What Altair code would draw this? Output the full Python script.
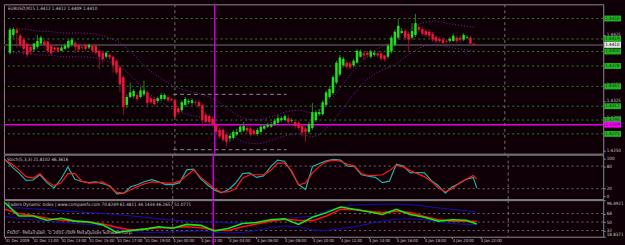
import altair as alt
import pandas as pd

# ---------------- data ----------------
candle_open = [1.4398, 1.4425, 1.4433, 1.4424, 1.4418, 1.4412, 1.4407, 1.4403, 1.4407, 1.4412,
               1.4415, 1.4415, 1.4409, 1.4406, 1.4406, 1.4401, 1.4404, 1.4406, 1.4410, 1.4413,
               1.4410, 1.4407, 1.4410, 1.4406, 1.4409, 1.4409, 1.4401, 1.4398, 1.4392, 1.4395,
               1.4392, 1.4386, 1.4376, 1.4361, 1.4319, 1.4331, 1.4332, 1.4334, 1.4331, 1.4335,
               1.4338, 1.4329, 1.4328, 1.4325, 1.4328, 1.4328, 1.4331, 1.4328, 1.4326, 1.4314,
               1.4311, 1.4319, 1.4323, 1.4322, 1.4323, 1.4323, 1.4319, 1.4304, 1.4302, 1.4298,
               1.4289, 1.4281, 1.4281, 1.4274, 1.4268, 1.4269, 1.4274, 1.4278, 1.4280, 1.4284,
               1.4283, 1.4280, 1.4275, 1.4278, 1.4283, 1.4286, 1.4286, 1.4289, 1.4292, 1.4296,
               1.4296, 1.4299, 1.4295, 1.4293, 1.4292, 1.4287, 1.4283, 1.4278, 1.4284, 1.4296,
               1.4305, 1.4305, 1.4319, 1.4331, 1.4337, 1.4353, 1.4365, 1.4379, 1.4383, 1.4382,
               1.4379, 1.4383, 1.4392, 1.4397, 1.4398, 1.4392, 1.4395, 1.4397, 1.4397, 1.4394,
               1.4392, 1.4400, 1.4410, 1.4421, 1.4428, 1.4431, 1.4427, 1.4421, 1.4425, 1.4437,
               1.4434, 1.4431, 1.4430, 1.4427, 1.4422, 1.4419, 1.4418, 1.4416, 1.4416, 1.4416,
               1.4421, 1.4421, 1.4418, 1.4421, 1.4421, 1.4412]
candle_high = [1.4436, 1.4437, 1.4436, 1.4427, 1.4421, 1.4413, 1.4410, 1.4413, 1.4425, 1.4424,
               1.4418, 1.4416, 1.4410, 1.4407, 1.4407, 1.4409, 1.4412, 1.4418, 1.4421, 1.4416,
               1.4412, 1.4409, 1.4412, 1.4412, 1.4410, 1.4410, 1.4403, 1.4400, 1.4400, 1.4397,
               1.4394, 1.4388, 1.4379, 1.4364, 1.4335, 1.4353, 1.4343, 1.4338, 1.4346, 1.4356,
               1.4341, 1.4332, 1.4331, 1.4332, 1.4337, 1.4337, 1.4334, 1.4329, 1.4329, 1.4317,
               1.4326, 1.4331, 1.4328, 1.4329, 1.4326, 1.4326, 1.4322, 1.4308, 1.4305, 1.4301,
               1.4292, 1.4284, 1.4283, 1.4277, 1.4275, 1.4281, 1.4283, 1.4290, 1.4293, 1.4287,
               1.4286, 1.4283, 1.4284, 1.4290, 1.4290, 1.4292, 1.4293, 1.4298, 1.4304, 1.4302,
               1.4305, 1.4304, 1.4299, 1.4296, 1.4295, 1.4290, 1.4286, 1.4293, 1.4322, 1.4311,
               1.4313, 1.4326, 1.4341, 1.4346, 1.4364, 1.4386, 1.4395, 1.4392, 1.4386, 1.4385,
               1.4389, 1.4404, 1.4403, 1.4400, 1.4401, 1.4403, 1.4401, 1.4400, 1.4400, 1.4395,
               1.4412, 1.4424, 1.4433, 1.4449, 1.4436, 1.4434, 1.4430, 1.4443, 1.4457, 1.4440,
               1.4437, 1.4434, 1.4433, 1.4430, 1.4425, 1.4422, 1.4421, 1.4419, 1.4422, 1.4427,
               1.4424, 1.4424, 1.4428, 1.4425, 1.4424, 1.4412]
candle_low = [1.4395, 1.4421, 1.4406, 1.4406, 1.4395, 1.4391, 1.4395, 1.4400, 1.4404, 1.4409,
              1.4407, 1.4398, 1.4394, 1.4400, 1.4398, 1.4400, 1.4403, 1.4404, 1.4407, 1.4398,
              1.4400, 1.4403, 1.4401, 1.4403, 1.4398, 1.4395, 1.4373, 1.4383, 1.4389, 1.4388,
              1.4368, 1.4365, 1.4338, 1.4304, 1.4314, 1.4329, 1.4329, 1.4325, 1.4329, 1.4332,
              1.4317, 1.4320, 1.4317, 1.4322, 1.4325, 1.4326, 1.4323, 1.4325, 1.4298, 1.4304,
              1.4308, 1.4316, 1.4320, 1.4319, 1.4319, 1.4314, 1.4286, 1.4290, 1.4289, 1.4286,
              1.4275, 1.4268, 1.4263, 1.4256, 1.4263, 1.4266, 1.4272, 1.4277, 1.4278, 1.4277,
              1.4271, 1.4272, 1.4272, 1.4277, 1.4281, 1.4284, 1.4284, 1.4287, 1.4290, 1.4293,
              1.4295, 1.4289, 1.4292, 1.4283, 1.4281, 1.4271, 1.4263, 1.4275, 1.4281, 1.4293,
              1.4302, 1.4302, 1.4316, 1.4328, 1.4334, 1.4350, 1.4362, 1.4376, 1.4374, 1.4373,
              1.4376, 1.4382, 1.4391, 1.4388, 1.4391, 1.4389, 1.4392, 1.4391, 1.4386, 1.4385,
              1.4389, 1.4397, 1.4407, 1.4418, 1.4427, 1.4418, 1.4401, 1.4418, 1.4422, 1.4430,
              1.4424, 1.4422, 1.4421, 1.4415, 1.4413, 1.4413, 1.4410, 1.4412, 1.4413, 1.4415,
              1.4413, 1.4415, 1.4416, 1.4419, 1.4411, 1.4409]
candle_close = [1.4433, 1.4434, 1.4428, 1.4410, 1.4404, 1.4395, 1.4400, 1.4412, 1.4416, 1.4421,
                1.4410, 1.4401, 1.4397, 1.4403, 1.4401, 1.4406, 1.4409, 1.4416, 1.4418, 1.4407,
                1.4403, 1.4406, 1.4404, 1.4410, 1.4401, 1.4398, 1.4392, 1.4388, 1.4398, 1.4391,
                1.4379, 1.4368, 1.4350, 1.4316, 1.4331, 1.4338, 1.4340, 1.4328, 1.4341, 1.4341,
                1.4322, 1.4323, 1.4320, 1.4329, 1.4334, 1.4334, 1.4326, 1.4326, 1.4301, 1.4308,
                1.4323, 1.4328, 1.4325, 1.4326, 1.4322, 1.4317, 1.4296, 1.4293, 1.4293, 1.4289,
                1.4278, 1.4271, 1.4266, 1.4263, 1.4272, 1.4278, 1.4278, 1.4286, 1.4287, 1.4280,
                1.4274, 1.4275, 1.4281, 1.4286, 1.4287, 1.4289, 1.4289, 1.4295, 1.4299, 1.4299,
                1.4302, 1.4293, 1.4296, 1.4287, 1.4284, 1.4277, 1.4278, 1.4290, 1.4308, 1.4308,
                1.4308, 1.4323, 1.4338, 1.4343, 1.4361, 1.4383, 1.4391, 1.4389, 1.4377, 1.4376,
                1.4386, 1.4401, 1.4400, 1.4394, 1.4395, 1.4400, 1.4398, 1.4394, 1.4389, 1.4388,
                1.4409, 1.4421, 1.4430, 1.4439, 1.4431, 1.4421, 1.4418, 1.4431, 1.4443, 1.4433,
                1.4427, 1.4425, 1.4424, 1.4418, 1.4416, 1.4416, 1.4413, 1.4415, 1.4419, 1.4424,
                1.4416, 1.4418, 1.4425, 1.4422, 1.4412, 1.4410]

envelope_bars = list(range(0, 136, 4)) + [135]
envelope_upper = [1.4434, 1.4434, 1.4431, 1.4430, 1.4428, 1.4428, 1.4427, 1.4422, 1.4413, 1.4395,
                  1.4374, 1.4359, 1.4347, 1.4340, 1.4335, 1.4326, 1.4311, 1.4299, 1.4296, 1.4301,
                  1.4308, 1.4311, 1.4307, 1.4319, 1.4344, 1.4371, 1.4394, 1.4407, 1.4416, 1.4431,
                  1.4443, 1.4446, 1.4442, 1.4439, 1.4437]
envelope_lower = [1.4398, 1.4398, 1.4395, 1.4394, 1.4392, 1.4392, 1.4391, 1.4386, 1.4377, 1.4359,
                  1.4338, 1.4323, 1.4311, 1.4304, 1.4299, 1.4290, 1.4275, 1.4263, 1.4260, 1.4265,
                  1.4272, 1.4275, 1.4271, 1.4283, 1.4308, 1.4335, 1.4358, 1.4371, 1.4380, 1.4395,
                  1.4407, 1.4410, 1.4406, 1.4403, 1.4401]

price_ticks = [1.4250, 1.4300, 1.4325, 1.4350, 1.4425]
level_prices = [1.4450, 1.4419, 1.4400, 1.4378, 1.4347, 1.4317, 1.4296, 1.4275]
bid_price = [1.4410]
marker_price = [1.4289]
range_box_prices = [1.4335, 1.4251]
range_box_start = [47.5, 47.5]
range_box_end = [80.5, 80.5]
separator_bars = [48, 144]
marker_bar = [59.6]

time_tick_bars = [0, 8, 16, 24, 32, 40, 48, 56, 64, 72, 80, 88, 96, 104, 112, 120, 128, 136]
time_tick_labels = ["31 Dec 2009", "31 Dec 11:00", "31 Dec 13:00", "31 Dec 15:00", "31 Dec 17:00",
                    "31 Dec 19:00", "4 Jan 00:00", "4 Jan 02:00", "4 Jan 04:00", "4 Jan 06:00",
                    "4 Jan 08:00", "4 Jan 10:00", "4 Jan 12:00", "4 Jan 14:00", "4 Jan 16:00",
                    "4 Jan 18:00", "4 Jan 20:00", "4 Jan 22:00"]

stoch_bars = list(range(0, 136, 2)) + [135]
stoch_main = [98, 78, 62, 42, 43, 57, 36, 22, 45, 78, 45, 39, 36, 38, 33, 28, 6, 8, 25, 31,
              39, 44, 38, 31, 31, 36, 70, 72, 46, 30, 16, 9, 18, 35, 60, 62, 50, 54, 78, 96,
              93, 65, 31, 18, 79, 87, 94, 98, 96, 80, 79, 57, 53, 50, 36, 40, 85, 80, 62, 63,
              62, 42, 28, 8, 25, 34, 45, 50, 22]
stoch_signal = [96, 85, 70, 52, 48, 60, 40, 28, 35, 60, 60, 40, 35, 36, 38, 25, 10, 8, 17, 26,
                33, 38, 37, 35, 35, 40, 55, 70, 50, 35, 20, 10, 12, 20, 48, 57, 57, 57, 68, 88,
                88, 68, 30, 35, 62, 80, 92, 96, 93, 85, 80, 60, 55, 55, 57, 68, 82, 78, 68, 60,
                52, 40, 22, 12, 20, 35, 45, 55, 46]

tdi_bars = list(range(0, 136, 4)) + [135]
tdi_price_line = [91, 63, 63, 54, 58, 52, 50, 44, 28, 32, 35, 40, 37, 45, 43, 31, 37, 47, 49, 55,
                  57, 45, 60, 70, 82, 77, 72, 66, 77, 66, 60, 52, 55, 54, 46]
tdi_signal_line = [77, 68, 64, 58, 54, 52, 50, 46, 39, 33, 35, 38, 38, 40, 38, 33, 32, 40, 46, 52,
                   56, 54, 53, 63, 77, 76, 73, 70, 73, 70, 62, 55, 52, 52, 51]
tdi_upper_band = [80, 80, 78, 76, 74, 72, 70, 68, 66, 63, 60, 57, 54, 52, 50, 50, 48, 48, 50, 54,
                  58, 60, 62, 74, 82, 86, 87, 88, 88, 87, 84, 80, 77, 74, 71]
tdi_lower_band = [62, 58, 55, 52, 49, 47, 45, 42, 36, 30, 28, 28, 29, 30, 31, 28, 27, 28, 32, 38,
                  42, 40, 33, 32, 36, 40, 46, 52, 56, 57, 55, 50, 47, 45, 44]

title_main = "EURUSD,M15  1.4412 1.4412 1.4409 1.4410"
title_stoch = "Stoch(5,3,3) 21.8102 46.3616"
title_tdi = "Traders Dynamic Index | www.compassfx.com  70.8249 61.4811 44.1434 46.2657 51.0771"
copyright_text = "FXDD - MetaTrader, \u00a9 2001-2009 MetaQuotes Software Corp."

# ---------------- style ----------------
BG = "#0f0008"
FRAME = "#8c8c8c"
TXT = "#c8c8c8"
FONT = "Liberation Sans Narrow, DejaVu Sans Condensed, Arial Narrow, sans-serif"
FS = 4.6
FSX = 4.2
BULL = "#1ee01e"
BEAR = "#f0143c"
BULL_WICK = "#169016"
BEAR_WICK = "#a00a22"
MAGENTA = "#c800d8"
W = 606
H_MAIN, H_STOCH, H_TDI = 151, 45, 37

xscale = alt.Scale(domain=[-0.3, 171.2], nice=False, zero=False)

candles = pd.DataFrame({"bar": list(range(len(candle_close))), "open": candle_open,
                        "high": candle_high, "low": candle_low, "close": candle_close})

# ---------------- main panel ----------------
ys = alt.Scale(domain=[1.4245, 1.44715], nice=False, zero=False)
yax = alt.Axis(values=price_ticks, format=".4f", orient="right", domain=False, grid=False,
               tickSize=2, tickColor=FRAME, labelColor=TXT, labelFont=FONT, labelFontSize=FS,
               labelPadding=1, labelOverlap=False, title=None)


def Ym(field):
    return alt.Y(field, scale=ys, axis=yax, title=None)


def Xn(field):
    return alt.X(field, scale=xscale, axis=None, title=None)


levels_df = pd.DataFrame({"price": level_prices, "label": [f"{p:.4f}" for p in level_prices]})
levels = alt.Chart(levels_df).mark_rule(color="#1c8c1c", strokeDash=[2, 3], strokeWidth=1).encode(y=Ym("price:Q"))

bid_df = pd.DataFrame({"price": bid_price, "label": [f"{p:.4f}" for p in bid_price]})
bid_line = alt.Chart(bid_df).mark_rule(color="#3a3a3a", strokeWidth=2).encode(y=Ym("price:Q"))

sep_df = pd.DataFrame({"bar": separator_bars})
seps_main = alt.Chart(sep_df).mark_rule(color="#707070", strokeDash=[3, 3], strokeWidth=1).encode(x=Xn("bar:Q"))

box_df = pd.DataFrame({"x": range_box_start, "x2": range_box_end, "price": range_box_prices})
box_lines = alt.Chart(box_df).mark_rule(color="#8a8a8a", strokeDash=[4, 3], strokeWidth=1).encode(
    x=Xn("x:Q"), x2="x2:Q", y=Ym("price:Q"))

env_df = pd.DataFrame({"bar": envelope_bars, "upper": envelope_upper, "lower": envelope_lower})
env_up = alt.Chart(env_df).mark_line(color="#7a24a6", strokeDash=[1, 2], strokeWidth=1,
                                     interpolate="monotone").encode(x=Xn("bar:Q"), y=Ym("upper:Q"))
env_lo = alt.Chart(env_df).mark_line(color="#7a24a6", strokeDash=[1, 2], strokeWidth=1,
                                     interpolate="monotone").encode(x=Xn("bar:Q"), y=Ym("lower:Q"))

mk_df = pd.DataFrame({"price": marker_price, "label": [f"{p:.4f}" for p in marker_price]})
mk_h = alt.Chart(mk_df).mark_rule(color="#e000e0", strokeWidth=1.5).encode(y=Ym("price:Q"))

vb_df = pd.DataFrame({"bar": marker_bar})
mk_v_main = alt.Chart(vb_df).mark_rule(color=MAGENTA, strokeWidth=1.6).encode(x=Xn("bar:Q"))

color_body = alt.condition("datum.close >= datum.open", alt.value(BULL), alt.value(BEAR))
color_wick = alt.condition("datum.close >= datum.open", alt.value(BULL_WICK), alt.value(BEAR_WICK))
wicks = alt.Chart(candles).mark_rule(strokeWidth=1).encode(
    x=Xn("bar:Q"), y=Ym("low:Q"), y2="high:Q", color=color_wick)
bodies = alt.Chart(candles).mark_bar(size=2.5).encode(
    x=Xn("bar:Q"), y=Ym("open:Q"), y2="close:Q", color=color_body)

# axis price boxes
lvl_boxes = alt.Chart(levels_df).mark_rule(color="#22b022", strokeWidth=6, strokeCap="butt").encode(
    x=alt.value(W + 1), x2=alt.value(W + 18), y=Ym("price:Q"))
lvl_box_text = alt.Chart(levels_df).mark_text(align="left", baseline="middle", font=FONT, fontSize=FS,
                                              color="#0c400c").encode(
    x=alt.value(W + 2), y=Ym("price:Q"), text="label:N")
bid_box = alt.Chart(bid_df).mark_rule(color="#e6e6e6", strokeWidth=6, strokeCap="butt").encode(
    x=alt.value(W + 1), x2=alt.value(W + 18), y=Ym("price:Q"))
bid_box_text = alt.Chart(bid_df).mark_text(align="left", baseline="middle", font=FONT, fontSize=FS,
                                           color="#000000").encode(
    x=alt.value(W + 2), y=Ym("price:Q"), text="label:N")
mk_box = alt.Chart(mk_df).mark_rule(color="#ff00ff", strokeWidth=6, strokeCap="butt").encode(
    x=alt.value(W + 1), x2=alt.value(W + 18), y=Ym("price:Q"))
mk_box_text = alt.Chart(mk_df).mark_text(align="left", baseline="middle", font=FONT, fontSize=FS,
                                         color="#400040").encode(
    x=alt.value(W + 2), y=Ym("price:Q"), text="label:N")

t_main = alt.Chart(pd.DataFrame({"t": [title_main]})).mark_text(
    align="left", baseline="top", font=FONT, fontSize=FS, color=TXT).encode(
    x=alt.value(4), y=alt.value(2), text="t:N")

main = alt.layer(levels, bid_line, seps_main, box_lines, env_up, env_lo, mk_h, mk_v_main, wicks, bodies,
                 lvl_boxes, lvl_box_text, bid_box, bid_box_text, mk_box, mk_box_text, t_main
                 ).properties(width=W, height=H_MAIN)

# ---------------- stochastic panel ----------------
ss = alt.Scale(domain=[-7.9, 110.5], nice=False, zero=False)
sax = alt.Axis(values=[0, 20, 80, 100], format="d", orient="right", domain=False, grid=False,
               tickSize=2, tickColor=FRAME, labelColor=TXT, labelFont=FONT, labelFontSize=FS,
               labelPadding=1, labelOverlap=False, title=None)


def Ys(field):
    return alt.Y(field, scale=ss, axis=sax, title=None)


stoch_df = pd.DataFrame({"bar": stoch_bars, "main": stoch_main, "signal": stoch_signal})
s_levels = alt.Chart(pd.DataFrame({"v": [20, 80]})).mark_rule(
    color="#6a6a6a", strokeDash=[2, 3]).encode(y=Ys("v:Q"))
s_seps = alt.Chart(sep_df).mark_rule(color="#707070", strokeDash=[3, 3]).encode(x=Xn("bar:Q"))
s_vm = alt.Chart(vb_df).mark_rule(color=MAGENTA, strokeWidth=1.6).encode(x=Xn("bar:Q"))
s_main = alt.Chart(stoch_df).mark_line(color="#20b2aa", strokeWidth=1.2).encode(
    x=Xn("bar:Q"), y=Ys("main:Q"))
s_sig = alt.Chart(stoch_df).mark_line(color="#ff1a1a", strokeWidth=1.2).encode(
    x=Xn("bar:Q"), y=Ys("signal:Q"))
t_stoch = alt.Chart(pd.DataFrame({"t": [title_stoch]})).mark_text(
    align="left", baseline="top", font=FONT, fontSize=FS, color=TXT).encode(
    x=alt.value(3), y=alt.value(2), text="t:N")
stoch = alt.layer(s_levels, s_seps, s_vm, s_main, s_sig, t_stoch).properties(width=W, height=H_STOCH)

# ---------------- TDI panel ----------------
ts = alt.Scale(domain=[18.8371, 96.4921], nice=False, zero=False)
tax = alt.Axis(values=[18.8371, 32, 50, 68, 96.4921], orient="right", domain=False, grid=False,
               labelExpr="datum.value % 1 == 0 ? format(datum.value, 'd') : format(datum.value, '.4f')",
               tickSize=2, tickColor=FRAME, labelColor=TXT, labelFont=FONT, labelFontSize=FS,
               labelPadding=1, labelOverlap=False, labelFlush=True, title=None)
label_array = "[" + ",".join(f"'{s}'" for s in time_tick_labels) + "]"
xax = alt.Axis(values=time_tick_bars, labelExpr=f"{label_array}[round(datum.value / 8)]",
               domain=False, grid=False, tickSize=2, tickColor=FRAME, labelColor=TXT,
               labelFont=FONT, labelFontSize=FSX, labelAlign="left", labelPadding=0,
               labelFlush=False, labelOverlap=False, title=None)


def Yt(field):
    return alt.Y(field, scale=ts, axis=tax, title=None)


def Xt(field):
    return alt.X(field, scale=xscale, axis=xax, title=None)


tdi_df = pd.DataFrame({"bar": tdi_bars, "price_line": tdi_price_line, "signal": tdi_signal_line,
                       "upper": tdi_upper_band, "lower": tdi_lower_band})
t_levels = alt.Chart(pd.DataFrame({"v": [32, 50, 68]})).mark_rule(
    color="#6a6a6a", strokeDash=[2, 3]).encode(y=Yt("v:Q"))
t_seps = alt.Chart(sep_df).mark_rule(color="#707070", strokeDash=[3, 3]).encode(x=Xt("bar:Q"))
t_vm = alt.Chart(vb_df).mark_rule(color=MAGENTA, strokeWidth=1.6).encode(
    x=Xt("bar:Q"), y=alt.value(0), y2=alt.value(H_TDI + 8))
t_up = alt.Chart(tdi_df).mark_line(color="#1010b0", strokeWidth=1).encode(x=Xt("bar:Q"), y=Yt("upper:Q"))
t_lo = alt.Chart(tdi_df).mark_line(color="#1010b0", strokeWidth=1).encode(x=Xt("bar:Q"), y=Yt("lower:Q"))
t_sig = alt.Chart(tdi_df).mark_line(color="#ff1010", strokeWidth=1.6).encode(x=Xt("bar:Q"), y=Yt("signal:Q"))
t_pl = alt.Chart(tdi_df).mark_line(color="#10ee10", strokeWidth=1.6).encode(x=Xt("bar:Q"), y=Yt("price_line:Q"))
t_tdi = alt.Chart(pd.DataFrame({"t": [title_tdi]})).mark_text(
    align="left", baseline="top", font=FONT, fontSize=FS, color=TXT).encode(
    x=alt.value(3), y=alt.value(2), text="t:N")
t_copy = alt.Chart(pd.DataFrame({"t": [copyright_text]})).mark_text(
    align="left", baseline="bottom", font=FONT, fontSize=FS, color=TXT).encode(
    x=alt.value(3), y=alt.value(H_TDI - 2), text="t:N")
tdi = alt.layer(t_levels, t_seps, t_vm, t_up, t_lo, t_sig, t_pl, t_tdi, t_copy).properties(
    width=W, height=H_TDI)

chart = alt.vconcat(main, stoch, tdi, spacing=1, bounds="flush").properties(
    background=BG, padding={"left": 1, "top": 1, "right": 0, "bottom": 0}
).configure_view(stroke=FRAME, strokeWidth=1, fill=BG)

chart.save("out.html", embed_options={"renderer": "svg", "actions": False})
